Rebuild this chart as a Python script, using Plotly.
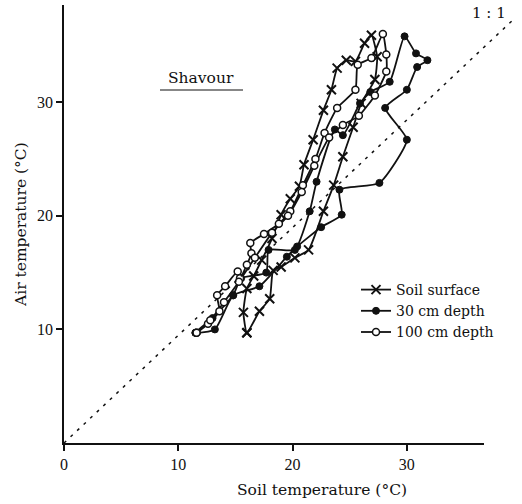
import plotly.graph_objects as go

# ---- data ----
surf_x = [16.0, 17.1, 18.0, 18.3, 19.0, 20.2, 21.4, 22.7, 23.6, 24.4, 25.3, 26.0, 27.2, 27.4, 26.9,
          26.3, 25.5, 24.7, 23.9, 23.4, 22.7, 21.8, 21.0, 20.6, 19.8, 19.0, 18.2, 17.3, 16.6, 16.0, 15.7, 16.0]
surf_y = [9.7, 11.6, 12.7, 15.2, 15.5, 16.3, 17.0, 20.4, 22.7, 25.2, 27.8, 29.9, 32.0, 34.0, 35.9,
          35.2, 33.6, 33.7, 33.0, 31.1, 29.3, 26.7, 24.5, 22.6, 21.5, 20.1, 18.0, 16.1, 14.7, 13.6, 11.5, 9.7]

d30_x = [11.5, 13.2, 14.8, 17.1, 19.5, 20.4, 22.5, 24.3, 24.1, 27.6, 30.0, 28.1, 30.0, 30.9, 31.8, 30.8,
         29.8, 28.5, 26.8, 25.9, 24.4, 23.7, 22.1, 21.5, 20.2, 17.9, 17.7, 15.5, 14.8, 13.0, 11.5]
d30_y = [9.7, 10.0, 13.0, 13.8, 16.4, 17.3, 19.0, 20.1, 22.3, 22.9, 26.7, 29.5, 31.1, 33.1, 33.7, 34.3,
         35.8, 31.8, 30.9, 29.9, 27.1, 27.6, 23.0, 20.4, 17.0, 17.0, 15.0, 14.5, 13.0, 11.0, 9.7]

d100_x = [11.6, 12.6, 13.6, 13.4, 14.1, 15.2, 15.4, 16.0, 16.4, 16.3, 17.5, 18.8, 19.8, 20.9, 22.0, 22.8,
          23.9, 25.5, 25.7, 26.9, 27.9, 28.2, 28.2, 27.2, 25.8, 24.4, 23.2, 21.9, 20.8, 19.6, 18.2, 16.7,
          15.3, 14.0, 12.8, 11.6]
d100_y = [9.7, 10.5, 11.6, 13.0, 13.8, 15.1, 14.5, 15.7, 16.7, 17.6, 18.4, 19.3, 20.4, 22.7, 25.0, 27.3,
          29.5, 31.1, 33.3, 33.9, 36.0, 34.2, 32.7, 30.6, 28.8, 28.0, 26.9, 24.4, 22.1, 20.0, 18.5, 16.3,
          14.2, 12.4, 10.8, 9.7]

x_ticks = [0, 10, 20, 30]
y_ticks = [10, 20, 30]
series_names = ["Soil surface", "30 cm depth", "100 cm depth"]

SERIF = "Liberation Serif"
WIDE = "DejaVu Serif"
BLACK = "#111111"

fig = go.Figure()
fig.add_trace(go.Scatter(
    x=surf_x, y=surf_y, name=series_names[0], mode="lines+markers",
    line=dict(color=BLACK, width=1.8, shape="spline", smoothing=0.5),
    marker=dict(symbol="x-thin-open", size=9, line=dict(color=BLACK, width=2), color=BLACK)))
fig.add_trace(go.Scatter(
    x=d30_x, y=d30_y, name=series_names[1], mode="lines+markers",
    line=dict(color=BLACK, width=1.8, shape="spline", smoothing=0.5),
    marker=dict(symbol="circle", size=7, color=BLACK, line=dict(color=BLACK, width=1))))
fig.add_trace(go.Scatter(
    x=d100_x, y=d100_y, name=series_names[2], mode="lines+markers",
    line=dict(color=BLACK, width=1.8, shape="spline", smoothing=0.5),
    marker=dict(symbol="circle", size=7, color="white", line=dict(color=BLACK, width=1.5))))

W, H = 522, 504
L, R, T, B = 64, 38, 5, 61
pw, ph = W - L - R, H - T - B


def px(xp):
    return (xp - L) / pw


def py(yp):
    return (H - B - yp) / ph


axis_common = dict(showgrid=False, zeroline=False, showline=True, linecolor=BLACK, linewidth=1.5,
                   ticks="outside", ticklen=6, tickwidth=1.5, tickcolor=BLACK,
                   tickfont=dict(family=SERIF, size=16, color=BLACK))


def label(text, x, y, size=15, angle=0):
    return dict(text=text, xref="paper", yref="paper", x=px(x), y=py(y), xanchor="center",
                yanchor="middle", showarrow=False, textangle=angle,
                font=dict(family=WIDE, size=size, color=BLACK))


fig.update_layout(
    width=W, height=H, margin=dict(l=L, r=R, t=T, b=B),
    paper_bgcolor="white", plot_bgcolor="white",
    xaxis=dict(range=[0, 36.75], tickvals=x_ticks, ticktext=[str(v) for v in x_ticks], **axis_common),
    yaxis=dict(range=[0, 38.56], tickvals=y_ticks, ticktext=[str(v) for v in y_ticks], **axis_common),
    showlegend=True,
    legend=dict(x=px(356), y=py(274), xanchor="left", yanchor="top",
                font=dict(family=WIDE, size=14, color=BLACK),
                bgcolor="rgba(0,0,0,0)", itemwidth=30, tracegroupgap=0),
    shapes=[
        dict(type="line", xref="paper", yref="paper", x0=0, y0=0, x1=px(515), y1=py(18),
             line=dict(color=BLACK, width=1.5, dash="3px,6px")),
        dict(type="line", xref="paper", yref="paper", x0=px(160), y0=py(90), x1=px(243), y1=py(90),
             line=dict(color=BLACK, width=1.2)),
    ],
    annotations=[
        label("Soil temperature (°C)", 322, 490, 15.5),
        label("Air temperature (°C)", 21, 225, 15.5, -90),
        label("Shavour", 201, 78, 15.5),
        label("1 : 1", 489, 13, 15),
    ],
)

fig.write_html("out.html", post_script="document.body.style.margin='0px';",
               config={"displayModeBar": False})
